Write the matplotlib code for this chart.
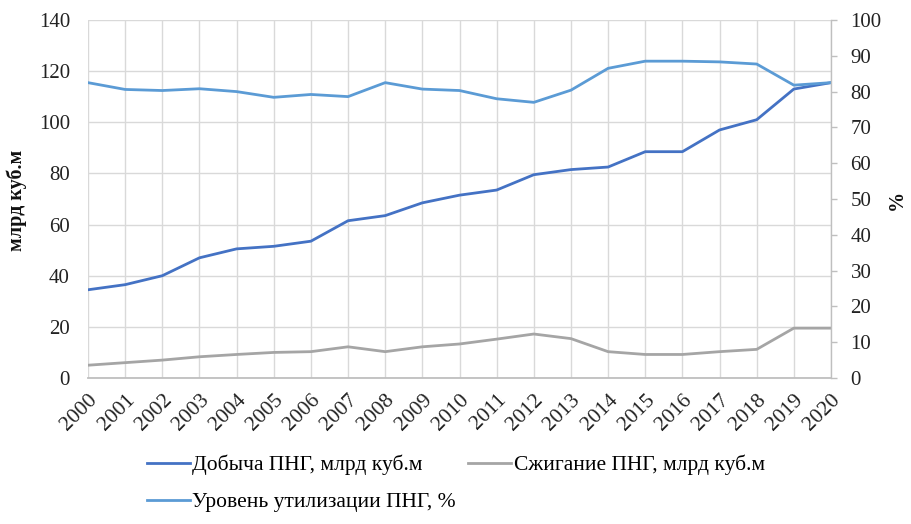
import matplotlib
matplotlib.use("Agg")
import matplotlib.pyplot as plt

plt.rcParams['font.family'] = ['Liberation Serif', 'DejaVu Serif']

years = list(range(2000, 2021))
year_labels = [str(y) for y in years]

# Добыча ПНГ, млрд куб.м
production = [34.5, 36.5, 40, 47, 50.5, 51.5, 53.5, 61.5, 63.5, 68.5, 71.5,
              73.5, 79.5, 81.5, 82.5, 88.5, 88.5, 97, 101, 113, 115.5]
# Сжигание ПНГ, млрд куб.м
flaring = [5, 6, 7, 8.3, 9.2, 10, 10.3, 12.2, 10.3, 12.2, 13.3,
           15.2, 17.2, 15.4, 10.3, 9.2, 9.2, 10.3, 11.2, 19.5, 19.5]
# Уровень утилизации ПНГ, %
utilization = [82.5, 80.6, 80.3, 80.8, 80, 78.4, 79.2, 78.6, 82.5, 80.7, 80.3,
               78, 77, 80.4, 86.5, 88.5, 88.5, 88.3, 87.7, 81.8, 82.5]

left_ticks = [0, 20, 40, 60, 80, 100, 120, 140]
right_ticks = [0, 10, 20, 30, 40, 50, 60, 70, 80, 90, 100]

c_prod = '#4472C4'
c_flare = '#A5A5A5'
c_util = '#5B9BD5'
grid_c = '#D9D9D9'

fig = plt.figure(figsize=(9.12, 5.24), dpi=100)
ax = fig.add_axes([88/912, 1-378/524, (831-88)/912, (378-20)/524])
ax2 = ax.twinx()

l1, = ax.plot(years, production, color=c_prod, lw=2.0, label='Добыча ПНГ, млрд куб.м')
l2, = ax.plot(years, flaring, color=c_flare, lw=2.0, label='Сжигание ПНГ, млрд куб.м')
l3, = ax2.plot(years, utilization, color=c_util, lw=2.0, label='Уровень утилизации ПНГ, %')

ax.set_xlim(2000, 2020)
ax.set_ylim(0, 140)
ax2.set_ylim(0, 100)
ax.set_yticks(left_ticks)
ax2.set_yticks(right_ticks)
ax.set_xticks(years)
ax.set_xticklabels(year_labels, rotation=45, ha='right', va='top',
                   rotation_mode='anchor', fontsize=15.5)

ax.grid(True, color=grid_c, lw=1.0)
ax.set_axisbelow(True)

for a in (ax, ax2):
    for s in ('top', 'left', 'right', 'bottom'):
        a.spines[s].set_visible(False)
ax.spines['bottom'].set_visible(True)
ax.spines['bottom'].set_color('#BFBFBF')
ax.spines['bottom'].set_linewidth(1.3)
ax2.spines['right'].set_visible(True)
ax2.spines['right'].set_color('#BFBFBF')
ax2.spines['right'].set_linewidth(1.0)

ax.tick_params(axis='y', length=0, pad=13, labelsize=15, colors='#222222')
ax.tick_params(axis='x', length=0, pad=9, colors='#222222')
ax2.tick_params(axis='y', length=4, width=1.0, color='#BFBFBF', pad=10,
                labelsize=15, labelcolor='#222222')

fig.text(17/912, 1-200/524, 'млрд куб.м', rotation=90, ha='center', va='center',
         fontsize=14.5, fontweight='bold', color='#111111')
fig.text(897/912, 1-200/524, '%', rotation=90, ha='center', va='center',
         fontsize=14.5, fontweight='bold', color='#111111')

# row-major order: first row holds the two volume series
leg = fig.legend(handles=[l1, l3, l2], ncol=2, loc='upper left',
                 bbox_to_anchor=(138/912, 1-446/524), frameon=False,
                 fontsize=15.5, handlelength=2.0, handletextpad=0.1,
                 columnspacing=0.6, labelspacing=0.8, borderaxespad=0)

fig.savefig('out.png', dpi=100, facecolor='white')
